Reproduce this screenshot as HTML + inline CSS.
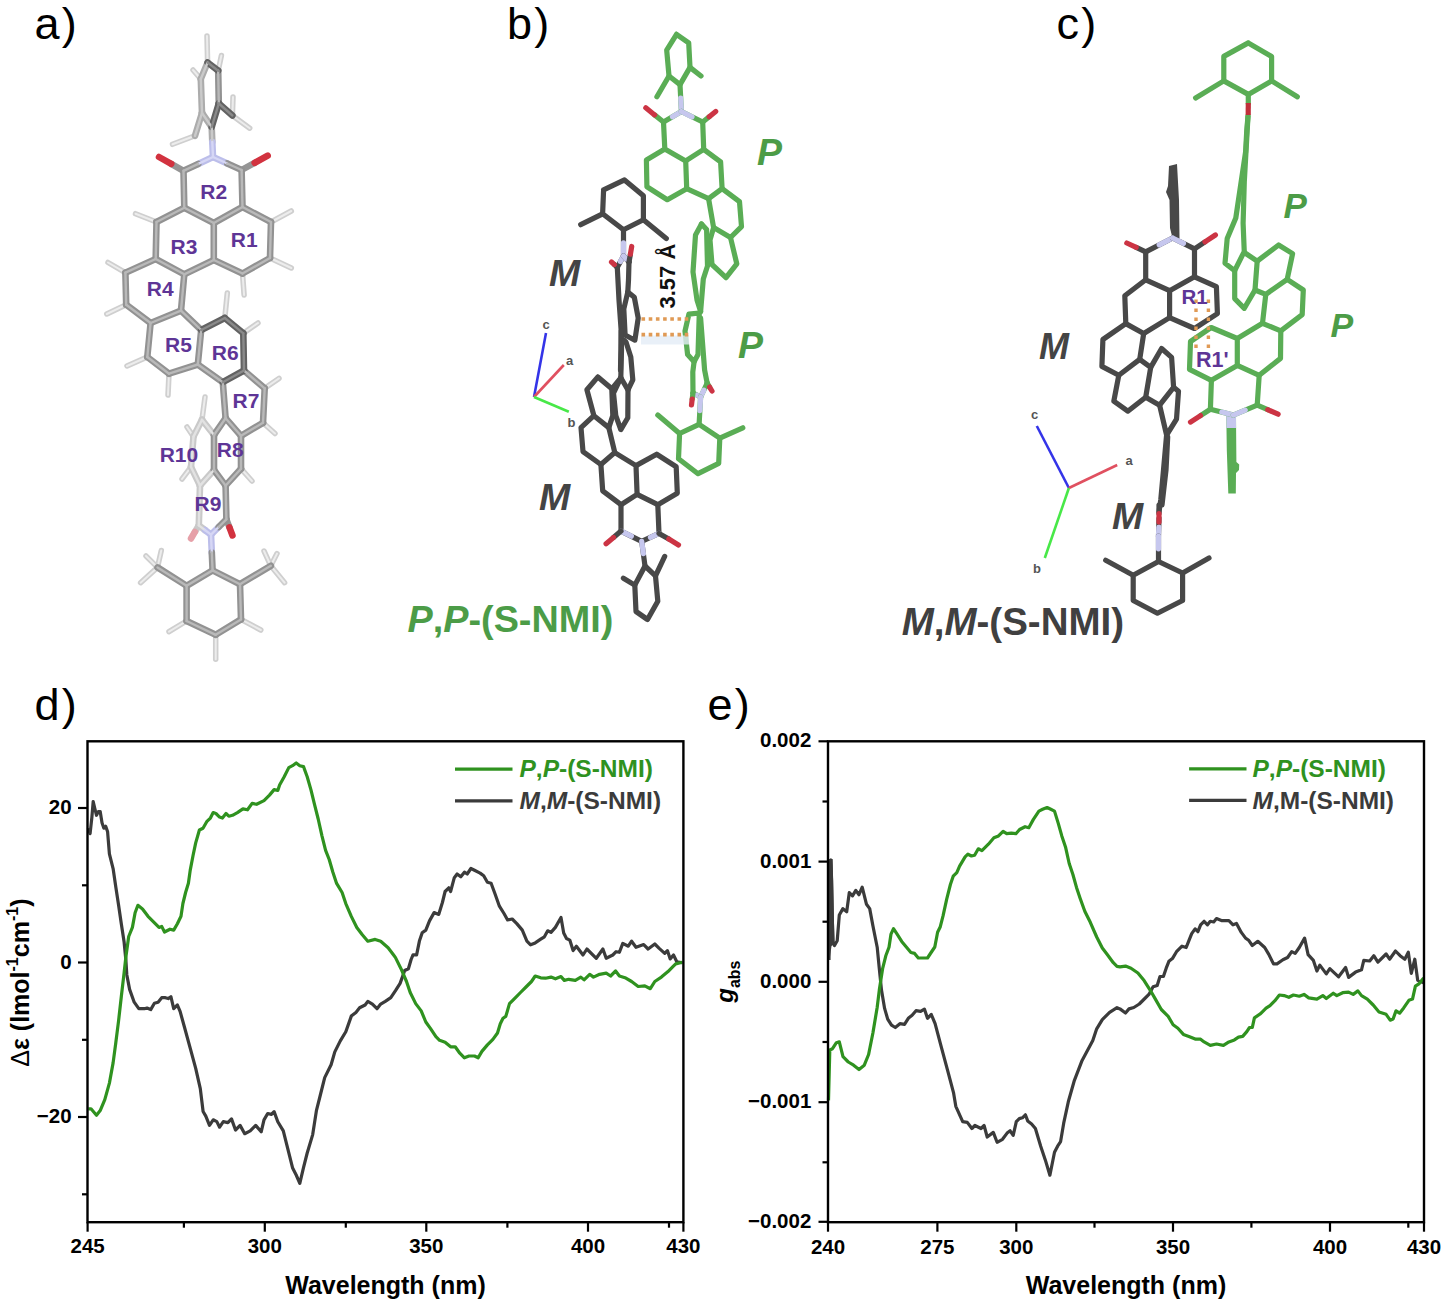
<!DOCTYPE html>
<html><head><meta charset="utf-8"><title>figure</title>
<style>html,body{margin:0;padding:0;background:#fff;width:1450px;height:1306px;overflow:hidden}svg{display:block}</style>
</head><body>
<svg width="1450" height="1306" viewBox="0 0 1450 1306" font-family='"Liberation Sans", sans-serif'>
<rect width="1450" height="1306" fill="#fff"/>
<text x="34.5" y="38.8" font-size="45" letter-spacing="2.2">a)</text>
<text x="507" y="38.8" font-size="45" letter-spacing="2.2">b)</text>
<text x="1056.5" y="38.8" font-size="45" letter-spacing="2.2">c)</text>
<line x1="207.6" y1="62.5" x2="207" y2="36" stroke="#cfcfcf" stroke-width="5.5" stroke-linecap="round"/>
<line x1="207.6" y1="62.5" x2="207" y2="36" stroke="#ececec" stroke-width="2" stroke-linecap="round"/>
<line x1="218.2" y1="70.7" x2="221.4" y2="55.5" stroke="#cfcfcf" stroke-width="5.5" stroke-linecap="round"/>
<line x1="218.2" y1="70.7" x2="221.4" y2="55.5" stroke="#ececec" stroke-width="2" stroke-linecap="round"/>
<line x1="200.8" y1="79" x2="193" y2="70" stroke="#cfcfcf" stroke-width="5.5" stroke-linecap="round"/>
<line x1="200.8" y1="79" x2="193" y2="70" stroke="#ececec" stroke-width="2" stroke-linecap="round"/>
<line x1="232.4" y1="115.5" x2="233" y2="97" stroke="#cfcfcf" stroke-width="5.5" stroke-linecap="round"/>
<line x1="232.4" y1="115.5" x2="233" y2="97" stroke="#ececec" stroke-width="2" stroke-linecap="round"/>
<line x1="232.4" y1="115.5" x2="249.7" y2="128.2" stroke="#cfcfcf" stroke-width="5.5" stroke-linecap="round"/>
<line x1="232.4" y1="115.5" x2="249.7" y2="128.2" stroke="#ececec" stroke-width="2" stroke-linecap="round"/>
<line x1="195" y1="135.8" x2="172.5" y2="144.3" stroke="#cfcfcf" stroke-width="5.5" stroke-linecap="round"/>
<line x1="195" y1="135.8" x2="172.5" y2="144.3" stroke="#ececec" stroke-width="2" stroke-linecap="round"/>
<line x1="156.5" y1="222" x2="135.5" y2="213.7" stroke="#cfcfcf" stroke-width="5.5" stroke-linecap="round"/>
<line x1="156.5" y1="222" x2="135.5" y2="213.7" stroke="#ececec" stroke-width="2" stroke-linecap="round"/>
<line x1="271" y1="222" x2="291.3" y2="211" stroke="#cfcfcf" stroke-width="5.5" stroke-linecap="round"/>
<line x1="271" y1="222" x2="291.3" y2="211" stroke="#ececec" stroke-width="2" stroke-linecap="round"/>
<line x1="270" y1="258" x2="291.3" y2="268" stroke="#cfcfcf" stroke-width="5.5" stroke-linecap="round"/>
<line x1="270" y1="258" x2="291.3" y2="268" stroke="#ececec" stroke-width="2" stroke-linecap="round"/>
<line x1="242.5" y1="273.5" x2="244.1" y2="295" stroke="#cfcfcf" stroke-width="5.5" stroke-linecap="round"/>
<line x1="242.5" y1="273.5" x2="244.1" y2="295" stroke="#ececec" stroke-width="2" stroke-linecap="round"/>
<line x1="125.4" y1="272.7" x2="108" y2="262.5" stroke="#cfcfcf" stroke-width="5.5" stroke-linecap="round"/>
<line x1="125.4" y1="272.7" x2="108" y2="262.5" stroke="#ececec" stroke-width="2" stroke-linecap="round"/>
<line x1="126.2" y1="304.7" x2="106.8" y2="314" stroke="#cfcfcf" stroke-width="5.5" stroke-linecap="round"/>
<line x1="126.2" y1="304.7" x2="106.8" y2="314" stroke="#ececec" stroke-width="2" stroke-linecap="round"/>
<line x1="147.3" y1="357" x2="127" y2="366" stroke="#cfcfcf" stroke-width="5.5" stroke-linecap="round"/>
<line x1="147.3" y1="357" x2="127" y2="366" stroke="#ececec" stroke-width="2" stroke-linecap="round"/>
<line x1="169" y1="373.7" x2="168" y2="395" stroke="#cfcfcf" stroke-width="5.5" stroke-linecap="round"/>
<line x1="169" y1="373.7" x2="168" y2="395" stroke="#ececec" stroke-width="2" stroke-linecap="round"/>
<line x1="224.8" y1="318" x2="227.3" y2="293" stroke="#cfcfcf" stroke-width="5.5" stroke-linecap="round"/>
<line x1="224.8" y1="318" x2="227.3" y2="293" stroke="#ececec" stroke-width="2" stroke-linecap="round"/>
<line x1="243.3" y1="333.3" x2="258" y2="323" stroke="#cfcfcf" stroke-width="5.5" stroke-linecap="round"/>
<line x1="243.3" y1="333.3" x2="258" y2="323" stroke="#ececec" stroke-width="2" stroke-linecap="round"/>
<line x1="264.7" y1="388.3" x2="279" y2="378.4" stroke="#cfcfcf" stroke-width="5.5" stroke-linecap="round"/>
<line x1="264.7" y1="388.3" x2="279" y2="378.4" stroke="#ececec" stroke-width="2" stroke-linecap="round"/>
<line x1="263" y1="422.8" x2="275" y2="433.5" stroke="#cfcfcf" stroke-width="5.5" stroke-linecap="round"/>
<line x1="263" y1="422.8" x2="275" y2="433.5" stroke="#ececec" stroke-width="2" stroke-linecap="round"/>
<line x1="241" y1="468.7" x2="252" y2="481" stroke="#cfcfcf" stroke-width="5.5" stroke-linecap="round"/>
<line x1="241" y1="468.7" x2="252" y2="481" stroke="#ececec" stroke-width="2" stroke-linecap="round"/>
<line x1="202" y1="419.7" x2="205" y2="397" stroke="#cfcfcf" stroke-width="5.5" stroke-linecap="round"/>
<line x1="202" y1="419.7" x2="205" y2="397" stroke="#ececec" stroke-width="2" stroke-linecap="round"/>
<line x1="193.5" y1="436.6" x2="187" y2="427" stroke="#cfcfcf" stroke-width="5.5" stroke-linecap="round"/>
<line x1="193.5" y1="436.6" x2="187" y2="427" stroke="#ececec" stroke-width="2" stroke-linecap="round"/>
<line x1="191" y1="467" x2="182" y2="479" stroke="#cfcfcf" stroke-width="5.5" stroke-linecap="round"/>
<line x1="191" y1="467" x2="182" y2="479" stroke="#ececec" stroke-width="2" stroke-linecap="round"/>
<line x1="186.6" y1="621" x2="169" y2="631.7" stroke="#cfcfcf" stroke-width="5.5" stroke-linecap="round"/>
<line x1="186.6" y1="621" x2="169" y2="631.7" stroke="#ececec" stroke-width="2" stroke-linecap="round"/>
<line x1="215.7" y1="634.8" x2="215.7" y2="659.3" stroke="#cfcfcf" stroke-width="5.5" stroke-linecap="round"/>
<line x1="215.7" y1="634.8" x2="215.7" y2="659.3" stroke="#ececec" stroke-width="2" stroke-linecap="round"/>
<line x1="241" y1="619.4" x2="260.8" y2="630" stroke="#cfcfcf" stroke-width="5.5" stroke-linecap="round"/>
<line x1="241" y1="619.4" x2="260.8" y2="630" stroke="#ececec" stroke-width="2" stroke-linecap="round"/>
<line x1="157.5" y1="567.4" x2="140.6" y2="582.7" stroke="#cfcfcf" stroke-width="5.5" stroke-linecap="round"/>
<line x1="157.5" y1="567.4" x2="140.6" y2="582.7" stroke="#ececec" stroke-width="2" stroke-linecap="round"/>
<line x1="157.5" y1="567.4" x2="161.3" y2="550.5" stroke="#cfcfcf" stroke-width="5.5" stroke-linecap="round"/>
<line x1="157.5" y1="567.4" x2="161.3" y2="550.5" stroke="#ececec" stroke-width="2" stroke-linecap="round"/>
<line x1="157.5" y1="567.4" x2="146" y2="556" stroke="#cfcfcf" stroke-width="5.5" stroke-linecap="round"/>
<line x1="157.5" y1="567.4" x2="146" y2="556" stroke="#ececec" stroke-width="2" stroke-linecap="round"/>
<line x1="270.8" y1="565.8" x2="284.6" y2="582.7" stroke="#cfcfcf" stroke-width="5.5" stroke-linecap="round"/>
<line x1="270.8" y1="565.8" x2="284.6" y2="582.7" stroke="#ececec" stroke-width="2" stroke-linecap="round"/>
<line x1="270.8" y1="565.8" x2="277" y2="553.6" stroke="#cfcfcf" stroke-width="5.5" stroke-linecap="round"/>
<line x1="270.8" y1="565.8" x2="277" y2="553.6" stroke="#ececec" stroke-width="2" stroke-linecap="round"/>
<line x1="270.8" y1="565.8" x2="264" y2="551" stroke="#cfcfcf" stroke-width="5.5" stroke-linecap="round"/>
<line x1="270.8" y1="565.8" x2="264" y2="551" stroke="#ececec" stroke-width="2" stroke-linecap="round"/>
<line x1="183.5" y1="170.8" x2="171.25" y2="163.9" stroke="#959595" stroke-width="6.5" stroke-linecap="round"/>
<line x1="171.25" y1="163.9" x2="159" y2="157" stroke="#d2323f" stroke-width="6.5" stroke-linecap="round"/>
<line x1="241.6" y1="170" x2="254.64999999999998" y2="162.8" stroke="#959595" stroke-width="6.5" stroke-linecap="round"/>
<line x1="254.64999999999998" y1="162.8" x2="267.7" y2="155.6" stroke="#d2323f" stroke-width="6.5" stroke-linecap="round"/>
<line x1="226.4" y1="519.3" x2="229.45" y2="527.4" stroke="#959595" stroke-width="6.5" stroke-linecap="round"/>
<line x1="229.45" y1="527.4" x2="232.5" y2="535.5" stroke="#d2323f" stroke-width="6.5" stroke-linecap="round"/>
<line x1="198.8" y1="525.4" x2="194.9" y2="531.95" stroke="#c8c8c8" stroke-width="6.5" stroke-linecap="round"/>
<line x1="194.9" y1="531.95" x2="191" y2="538.5" stroke="#e6a0a8" stroke-width="6.5" stroke-linecap="round"/>
<line x1="214.0" y1="435.0" x2="202.0" y2="419.7" stroke="#c9c9c9" stroke-width="6.6" stroke-linecap="round"/>
<line x1="202.0" y1="419.7" x2="193.5" y2="436.6" stroke="#c9c9c9" stroke-width="6.6" stroke-linecap="round"/>
<line x1="193.5" y1="436.6" x2="191.0" y2="467.0" stroke="#c9c9c9" stroke-width="6.6" stroke-linecap="round"/>
<line x1="191.0" y1="467.0" x2="200.0" y2="485.6" stroke="#c9c9c9" stroke-width="6.6" stroke-linecap="round"/>
<line x1="200.0" y1="485.6" x2="214.0" y2="470.0" stroke="#c9c9c9" stroke-width="6.6" stroke-linecap="round"/>
<line x1="204.9" y1="530.0" x2="198.8" y2="525.4" stroke="#c9c9c9" stroke-width="6.6" stroke-linecap="round"/>
<line x1="198.8" y1="525.4" x2="200.0" y2="485.6" stroke="#c9c9c9" stroke-width="6.6" stroke-linecap="round"/>
<line x1="211.7" y1="127.0" x2="202.0" y2="113.0" stroke="#acacac" stroke-width="6.6" stroke-linecap="round"/>
<line x1="202.0" y1="113.0" x2="200.8" y2="79.0" stroke="#acacac" stroke-width="6.6" stroke-linecap="round"/>
<line x1="200.8" y1="79.0" x2="207.6" y2="62.5" stroke="#acacac" stroke-width="6.6" stroke-linecap="round"/>
<line x1="202.0" y1="113.0" x2="195.0" y2="135.8" stroke="#acacac" stroke-width="6.6" stroke-linecap="round"/>
<line x1="212.3" y1="142.0" x2="211.7" y2="127.0" stroke="#acacac" stroke-width="6.6" stroke-linecap="round"/>
<line x1="213.0" y1="157.0" x2="212.3" y2="142.0" stroke="#bcbeea" stroke-width="6.6" stroke-linecap="round"/>
<line x1="213.0" y1="157.0" x2="198.2" y2="163.9" stroke="#bcbeea" stroke-width="6.6" stroke-linecap="round"/>
<line x1="213.0" y1="157.0" x2="227.3" y2="163.5" stroke="#bcbeea" stroke-width="6.6" stroke-linecap="round"/>
<line x1="211.0" y1="534.6" x2="218.7" y2="527.0" stroke="#bcbeea" stroke-width="6.6" stroke-linecap="round"/>
<line x1="211.0" y1="534.6" x2="204.9" y2="530.0" stroke="#bcbeea" stroke-width="6.6" stroke-linecap="round"/>
<line x1="211.0" y1="534.6" x2="211.8" y2="552.5" stroke="#bcbeea" stroke-width="6.6" stroke-linecap="round"/>
<line x1="218.2" y1="70.7" x2="218.8" y2="103.5" stroke="#929292" stroke-width="6.6" stroke-linecap="round"/>
<line x1="198.2" y1="163.9" x2="183.5" y2="170.8" stroke="#929292" stroke-width="6.6" stroke-linecap="round"/>
<line x1="227.3" y1="163.5" x2="241.6" y2="170.0" stroke="#929292" stroke-width="6.6" stroke-linecap="round"/>
<line x1="183.5" y1="170.8" x2="184.3" y2="207.8" stroke="#929292" stroke-width="6.6" stroke-linecap="round"/>
<line x1="241.6" y1="170.0" x2="242.5" y2="207.0" stroke="#929292" stroke-width="6.6" stroke-linecap="round"/>
<line x1="184.3" y1="207.8" x2="213.8" y2="223.0" stroke="#929292" stroke-width="6.6" stroke-linecap="round"/>
<line x1="213.8" y1="223.0" x2="242.5" y2="207.0" stroke="#929292" stroke-width="6.6" stroke-linecap="round"/>
<line x1="184.3" y1="207.8" x2="156.5" y2="222.0" stroke="#929292" stroke-width="6.6" stroke-linecap="round"/>
<line x1="156.5" y1="222.0" x2="155.7" y2="259.0" stroke="#929292" stroke-width="6.6" stroke-linecap="round"/>
<line x1="155.7" y1="259.0" x2="184.3" y2="274.3" stroke="#929292" stroke-width="6.6" stroke-linecap="round"/>
<line x1="184.3" y1="274.3" x2="213.8" y2="260.0" stroke="#929292" stroke-width="6.6" stroke-linecap="round"/>
<line x1="213.8" y1="260.0" x2="213.8" y2="223.0" stroke="#929292" stroke-width="6.6" stroke-linecap="round"/>
<line x1="242.5" y1="207.0" x2="271.0" y2="222.0" stroke="#929292" stroke-width="6.6" stroke-linecap="round"/>
<line x1="271.0" y1="222.0" x2="270.0" y2="258.0" stroke="#929292" stroke-width="6.6" stroke-linecap="round"/>
<line x1="270.0" y1="258.0" x2="242.5" y2="273.5" stroke="#929292" stroke-width="6.6" stroke-linecap="round"/>
<line x1="242.5" y1="273.5" x2="213.8" y2="260.0" stroke="#929292" stroke-width="6.6" stroke-linecap="round"/>
<line x1="155.7" y1="259.0" x2="125.4" y2="272.7" stroke="#929292" stroke-width="6.6" stroke-linecap="round"/>
<line x1="125.4" y1="272.7" x2="126.2" y2="304.7" stroke="#929292" stroke-width="6.6" stroke-linecap="round"/>
<line x1="126.2" y1="304.7" x2="150.6" y2="323.0" stroke="#929292" stroke-width="6.6" stroke-linecap="round"/>
<line x1="150.6" y1="323.0" x2="181.0" y2="310.6" stroke="#929292" stroke-width="6.6" stroke-linecap="round"/>
<line x1="181.0" y1="310.6" x2="184.3" y2="274.3" stroke="#929292" stroke-width="6.6" stroke-linecap="round"/>
<line x1="181.0" y1="310.6" x2="201.2" y2="330.0" stroke="#929292" stroke-width="6.6" stroke-linecap="round"/>
<line x1="201.2" y1="330.0" x2="197.8" y2="364.5" stroke="#929292" stroke-width="6.6" stroke-linecap="round"/>
<line x1="197.8" y1="364.5" x2="169.0" y2="373.7" stroke="#929292" stroke-width="6.6" stroke-linecap="round"/>
<line x1="169.0" y1="373.7" x2="147.3" y2="357.0" stroke="#929292" stroke-width="6.6" stroke-linecap="round"/>
<line x1="147.3" y1="357.0" x2="150.6" y2="323.0" stroke="#929292" stroke-width="6.6" stroke-linecap="round"/>
<line x1="222.8" y1="382.2" x2="197.8" y2="364.5" stroke="#929292" stroke-width="6.6" stroke-linecap="round"/>
<line x1="244.0" y1="370.5" x2="264.7" y2="388.3" stroke="#929292" stroke-width="6.6" stroke-linecap="round"/>
<line x1="264.7" y1="388.3" x2="263.0" y2="422.8" stroke="#929292" stroke-width="6.6" stroke-linecap="round"/>
<line x1="263.0" y1="422.8" x2="241.0" y2="435.8" stroke="#929292" stroke-width="6.6" stroke-linecap="round"/>
<line x1="241.0" y1="435.8" x2="225.6" y2="418.2" stroke="#929292" stroke-width="6.6" stroke-linecap="round"/>
<line x1="225.6" y1="418.2" x2="222.8" y2="382.2" stroke="#929292" stroke-width="6.6" stroke-linecap="round"/>
<line x1="241.0" y1="435.8" x2="241.0" y2="468.7" stroke="#929292" stroke-width="6.6" stroke-linecap="round"/>
<line x1="241.0" y1="468.7" x2="225.6" y2="485.6" stroke="#929292" stroke-width="6.6" stroke-linecap="round"/>
<line x1="225.6" y1="485.6" x2="214.0" y2="470.0" stroke="#929292" stroke-width="6.6" stroke-linecap="round"/>
<line x1="214.0" y1="470.0" x2="214.0" y2="435.0" stroke="#929292" stroke-width="6.6" stroke-linecap="round"/>
<line x1="214.0" y1="435.0" x2="225.6" y2="418.2" stroke="#929292" stroke-width="6.6" stroke-linecap="round"/>
<line x1="225.6" y1="485.6" x2="226.4" y2="519.3" stroke="#929292" stroke-width="6.6" stroke-linecap="round"/>
<line x1="218.7" y1="527.0" x2="226.4" y2="519.3" stroke="#929292" stroke-width="6.6" stroke-linecap="round"/>
<line x1="211.8" y1="552.5" x2="212.6" y2="570.4" stroke="#929292" stroke-width="6.6" stroke-linecap="round"/>
<line x1="212.6" y1="570.4" x2="186.6" y2="585.8" stroke="#929292" stroke-width="6.6" stroke-linecap="round"/>
<line x1="186.6" y1="585.8" x2="186.6" y2="621.0" stroke="#929292" stroke-width="6.6" stroke-linecap="round"/>
<line x1="186.6" y1="621.0" x2="215.7" y2="634.8" stroke="#929292" stroke-width="6.6" stroke-linecap="round"/>
<line x1="215.7" y1="634.8" x2="241.0" y2="619.4" stroke="#929292" stroke-width="6.6" stroke-linecap="round"/>
<line x1="241.0" y1="619.4" x2="240.0" y2="584.2" stroke="#929292" stroke-width="6.6" stroke-linecap="round"/>
<line x1="240.0" y1="584.2" x2="212.6" y2="570.4" stroke="#929292" stroke-width="6.6" stroke-linecap="round"/>
<line x1="186.6" y1="585.8" x2="157.5" y2="567.4" stroke="#929292" stroke-width="6.6" stroke-linecap="round"/>
<line x1="240.0" y1="584.2" x2="270.8" y2="565.8" stroke="#929292" stroke-width="6.6" stroke-linecap="round"/>
<line x1="207.6" y1="62.5" x2="218.2" y2="70.7" stroke="#626262" stroke-width="6.6" stroke-linecap="round"/>
<line x1="218.8" y1="103.5" x2="211.7" y2="127.0" stroke="#626262" stroke-width="6.6" stroke-linecap="round"/>
<line x1="218.8" y1="103.5" x2="232.4" y2="115.5" stroke="#626262" stroke-width="6.6" stroke-linecap="round"/>
<line x1="201.2" y1="330.0" x2="224.8" y2="318.0" stroke="#626262" stroke-width="6.6" stroke-linecap="round"/>
<line x1="224.8" y1="318.0" x2="243.3" y2="333.3" stroke="#626262" stroke-width="6.6" stroke-linecap="round"/>
<line x1="243.3" y1="333.3" x2="244.0" y2="370.5" stroke="#626262" stroke-width="6.6" stroke-linecap="round"/>
<line x1="244.0" y1="370.5" x2="222.8" y2="382.2" stroke="#626262" stroke-width="6.6" stroke-linecap="round"/>
<line x1="214.0" y1="435.0" x2="202.0" y2="419.7" stroke="#e2e2e2" stroke-width="2.4" stroke-linecap="round"/>
<line x1="202.0" y1="419.7" x2="193.5" y2="436.6" stroke="#e2e2e2" stroke-width="2.4" stroke-linecap="round"/>
<line x1="193.5" y1="436.6" x2="191.0" y2="467.0" stroke="#e2e2e2" stroke-width="2.4" stroke-linecap="round"/>
<line x1="191.0" y1="467.0" x2="200.0" y2="485.6" stroke="#e2e2e2" stroke-width="2.4" stroke-linecap="round"/>
<line x1="200.0" y1="485.6" x2="214.0" y2="470.0" stroke="#e2e2e2" stroke-width="2.4" stroke-linecap="round"/>
<line x1="204.9" y1="530.0" x2="198.8" y2="525.4" stroke="#e2e2e2" stroke-width="2.4" stroke-linecap="round"/>
<line x1="198.8" y1="525.4" x2="200.0" y2="485.6" stroke="#e2e2e2" stroke-width="2.4" stroke-linecap="round"/>
<line x1="211.7" y1="127.0" x2="202.0" y2="113.0" stroke="#cacaca" stroke-width="2.4" stroke-linecap="round"/>
<line x1="202.0" y1="113.0" x2="200.8" y2="79.0" stroke="#cacaca" stroke-width="2.4" stroke-linecap="round"/>
<line x1="200.8" y1="79.0" x2="207.6" y2="62.5" stroke="#cacaca" stroke-width="2.4" stroke-linecap="round"/>
<line x1="202.0" y1="113.0" x2="195.0" y2="135.8" stroke="#cacaca" stroke-width="2.4" stroke-linecap="round"/>
<line x1="212.3" y1="142.0" x2="211.7" y2="127.0" stroke="#cacaca" stroke-width="2.4" stroke-linecap="round"/>
<line x1="213.0" y1="157.0" x2="212.3" y2="142.0" stroke="#d6d7f5" stroke-width="2.4" stroke-linecap="round"/>
<line x1="213.0" y1="157.0" x2="198.2" y2="163.9" stroke="#d6d7f5" stroke-width="2.4" stroke-linecap="round"/>
<line x1="213.0" y1="157.0" x2="227.3" y2="163.5" stroke="#d6d7f5" stroke-width="2.4" stroke-linecap="round"/>
<line x1="211.0" y1="534.6" x2="218.7" y2="527.0" stroke="#d6d7f5" stroke-width="2.4" stroke-linecap="round"/>
<line x1="211.0" y1="534.6" x2="204.9" y2="530.0" stroke="#d6d7f5" stroke-width="2.4" stroke-linecap="round"/>
<line x1="211.0" y1="534.6" x2="211.8" y2="552.5" stroke="#d6d7f5" stroke-width="2.4" stroke-linecap="round"/>
<line x1="218.2" y1="70.7" x2="218.8" y2="103.5" stroke="#b9b9b9" stroke-width="2.4" stroke-linecap="round"/>
<line x1="198.2" y1="163.9" x2="183.5" y2="170.8" stroke="#b9b9b9" stroke-width="2.4" stroke-linecap="round"/>
<line x1="227.3" y1="163.5" x2="241.6" y2="170.0" stroke="#b9b9b9" stroke-width="2.4" stroke-linecap="round"/>
<line x1="183.5" y1="170.8" x2="184.3" y2="207.8" stroke="#b9b9b9" stroke-width="2.4" stroke-linecap="round"/>
<line x1="241.6" y1="170.0" x2="242.5" y2="207.0" stroke="#b9b9b9" stroke-width="2.4" stroke-linecap="round"/>
<line x1="184.3" y1="207.8" x2="213.8" y2="223.0" stroke="#b9b9b9" stroke-width="2.4" stroke-linecap="round"/>
<line x1="213.8" y1="223.0" x2="242.5" y2="207.0" stroke="#b9b9b9" stroke-width="2.4" stroke-linecap="round"/>
<line x1="184.3" y1="207.8" x2="156.5" y2="222.0" stroke="#b9b9b9" stroke-width="2.4" stroke-linecap="round"/>
<line x1="156.5" y1="222.0" x2="155.7" y2="259.0" stroke="#b9b9b9" stroke-width="2.4" stroke-linecap="round"/>
<line x1="155.7" y1="259.0" x2="184.3" y2="274.3" stroke="#b9b9b9" stroke-width="2.4" stroke-linecap="round"/>
<line x1="184.3" y1="274.3" x2="213.8" y2="260.0" stroke="#b9b9b9" stroke-width="2.4" stroke-linecap="round"/>
<line x1="213.8" y1="260.0" x2="213.8" y2="223.0" stroke="#b9b9b9" stroke-width="2.4" stroke-linecap="round"/>
<line x1="242.5" y1="207.0" x2="271.0" y2="222.0" stroke="#b9b9b9" stroke-width="2.4" stroke-linecap="round"/>
<line x1="271.0" y1="222.0" x2="270.0" y2="258.0" stroke="#b9b9b9" stroke-width="2.4" stroke-linecap="round"/>
<line x1="270.0" y1="258.0" x2="242.5" y2="273.5" stroke="#b9b9b9" stroke-width="2.4" stroke-linecap="round"/>
<line x1="242.5" y1="273.5" x2="213.8" y2="260.0" stroke="#b9b9b9" stroke-width="2.4" stroke-linecap="round"/>
<line x1="155.7" y1="259.0" x2="125.4" y2="272.7" stroke="#b9b9b9" stroke-width="2.4" stroke-linecap="round"/>
<line x1="125.4" y1="272.7" x2="126.2" y2="304.7" stroke="#b9b9b9" stroke-width="2.4" stroke-linecap="round"/>
<line x1="126.2" y1="304.7" x2="150.6" y2="323.0" stroke="#b9b9b9" stroke-width="2.4" stroke-linecap="round"/>
<line x1="150.6" y1="323.0" x2="181.0" y2="310.6" stroke="#b9b9b9" stroke-width="2.4" stroke-linecap="round"/>
<line x1="181.0" y1="310.6" x2="184.3" y2="274.3" stroke="#b9b9b9" stroke-width="2.4" stroke-linecap="round"/>
<line x1="181.0" y1="310.6" x2="201.2" y2="330.0" stroke="#b9b9b9" stroke-width="2.4" stroke-linecap="round"/>
<line x1="201.2" y1="330.0" x2="197.8" y2="364.5" stroke="#b9b9b9" stroke-width="2.4" stroke-linecap="round"/>
<line x1="197.8" y1="364.5" x2="169.0" y2="373.7" stroke="#b9b9b9" stroke-width="2.4" stroke-linecap="round"/>
<line x1="169.0" y1="373.7" x2="147.3" y2="357.0" stroke="#b9b9b9" stroke-width="2.4" stroke-linecap="round"/>
<line x1="147.3" y1="357.0" x2="150.6" y2="323.0" stroke="#b9b9b9" stroke-width="2.4" stroke-linecap="round"/>
<line x1="222.8" y1="382.2" x2="197.8" y2="364.5" stroke="#b9b9b9" stroke-width="2.4" stroke-linecap="round"/>
<line x1="244.0" y1="370.5" x2="264.7" y2="388.3" stroke="#b9b9b9" stroke-width="2.4" stroke-linecap="round"/>
<line x1="264.7" y1="388.3" x2="263.0" y2="422.8" stroke="#b9b9b9" stroke-width="2.4" stroke-linecap="round"/>
<line x1="263.0" y1="422.8" x2="241.0" y2="435.8" stroke="#b9b9b9" stroke-width="2.4" stroke-linecap="round"/>
<line x1="241.0" y1="435.8" x2="225.6" y2="418.2" stroke="#b9b9b9" stroke-width="2.4" stroke-linecap="round"/>
<line x1="225.6" y1="418.2" x2="222.8" y2="382.2" stroke="#b9b9b9" stroke-width="2.4" stroke-linecap="round"/>
<line x1="241.0" y1="435.8" x2="241.0" y2="468.7" stroke="#b9b9b9" stroke-width="2.4" stroke-linecap="round"/>
<line x1="241.0" y1="468.7" x2="225.6" y2="485.6" stroke="#b9b9b9" stroke-width="2.4" stroke-linecap="round"/>
<line x1="225.6" y1="485.6" x2="214.0" y2="470.0" stroke="#b9b9b9" stroke-width="2.4" stroke-linecap="round"/>
<line x1="214.0" y1="470.0" x2="214.0" y2="435.0" stroke="#b9b9b9" stroke-width="2.4" stroke-linecap="round"/>
<line x1="214.0" y1="435.0" x2="225.6" y2="418.2" stroke="#b9b9b9" stroke-width="2.4" stroke-linecap="round"/>
<line x1="225.6" y1="485.6" x2="226.4" y2="519.3" stroke="#b9b9b9" stroke-width="2.4" stroke-linecap="round"/>
<line x1="218.7" y1="527.0" x2="226.4" y2="519.3" stroke="#b9b9b9" stroke-width="2.4" stroke-linecap="round"/>
<line x1="211.8" y1="552.5" x2="212.6" y2="570.4" stroke="#b9b9b9" stroke-width="2.4" stroke-linecap="round"/>
<line x1="212.6" y1="570.4" x2="186.6" y2="585.8" stroke="#b9b9b9" stroke-width="2.4" stroke-linecap="round"/>
<line x1="186.6" y1="585.8" x2="186.6" y2="621.0" stroke="#b9b9b9" stroke-width="2.4" stroke-linecap="round"/>
<line x1="186.6" y1="621.0" x2="215.7" y2="634.8" stroke="#b9b9b9" stroke-width="2.4" stroke-linecap="round"/>
<line x1="215.7" y1="634.8" x2="241.0" y2="619.4" stroke="#b9b9b9" stroke-width="2.4" stroke-linecap="round"/>
<line x1="241.0" y1="619.4" x2="240.0" y2="584.2" stroke="#b9b9b9" stroke-width="2.4" stroke-linecap="round"/>
<line x1="240.0" y1="584.2" x2="212.6" y2="570.4" stroke="#b9b9b9" stroke-width="2.4" stroke-linecap="round"/>
<line x1="186.6" y1="585.8" x2="157.5" y2="567.4" stroke="#b9b9b9" stroke-width="2.4" stroke-linecap="round"/>
<line x1="240.0" y1="584.2" x2="270.8" y2="565.8" stroke="#b9b9b9" stroke-width="2.4" stroke-linecap="round"/>
<line x1="207.6" y1="62.5" x2="218.2" y2="70.7" stroke="#8a8a8a" stroke-width="2.4" stroke-linecap="round"/>
<line x1="218.8" y1="103.5" x2="211.7" y2="127.0" stroke="#8a8a8a" stroke-width="2.4" stroke-linecap="round"/>
<line x1="218.8" y1="103.5" x2="232.4" y2="115.5" stroke="#8a8a8a" stroke-width="2.4" stroke-linecap="round"/>
<line x1="201.2" y1="330.0" x2="224.8" y2="318.0" stroke="#8a8a8a" stroke-width="2.4" stroke-linecap="round"/>
<line x1="224.8" y1="318.0" x2="243.3" y2="333.3" stroke="#8a8a8a" stroke-width="2.4" stroke-linecap="round"/>
<line x1="243.3" y1="333.3" x2="244.0" y2="370.5" stroke="#8a8a8a" stroke-width="2.4" stroke-linecap="round"/>
<line x1="244.0" y1="370.5" x2="222.8" y2="382.2" stroke="#8a8a8a" stroke-width="2.4" stroke-linecap="round"/>
<text x="213.8" y="198.6" text-anchor="middle" font-size="21" font-weight="bold" fill="#5e3596">R2</text>
<text x="244.2" y="246.5" text-anchor="middle" font-size="21" font-weight="bold" fill="#5e3596">R1</text>
<text x="184" y="254" text-anchor="middle" font-size="21" font-weight="bold" fill="#5e3596">R3</text>
<text x="160.3" y="296.2" text-anchor="middle" font-size="21" font-weight="bold" fill="#5e3596">R4</text>
<text x="178.5" y="351.8" text-anchor="middle" font-size="21" font-weight="bold" fill="#5e3596">R5</text>
<text x="225.2" y="360.3" text-anchor="middle" font-size="21" font-weight="bold" fill="#5e3596">R6</text>
<text x="245.9" y="408.2" text-anchor="middle" font-size="21" font-weight="bold" fill="#5e3596">R7</text>
<text x="230.2" y="457.2" text-anchor="middle" font-size="21" font-weight="bold" fill="#5e3596">R8</text>
<text x="178.9" y="461.8" text-anchor="middle" font-size="21" font-weight="bold" fill="#5e3596">R10</text>
<text x="208" y="510.8" text-anchor="middle" font-size="21" font-weight="bold" fill="#5e3596">R9</text>
<polyline points="603.6,189.9 624.5,179.9 643.4,195.8 643.4,219.7 623.5,229.7 602.6,213.8 603.6,189.9" fill="none" stroke="#484848" stroke-width="5.2" stroke-linejoin="round" stroke-linecap="round"/>
<polyline points="602.6,213.8 580.7,224.7" fill="none" stroke="#484848" stroke-width="5.2" stroke-linejoin="round" stroke-linecap="round"/>
<polyline points="643.4,219.7 666.3,238.6" fill="none" stroke="#484848" stroke-width="5.2" stroke-linejoin="round" stroke-linecap="round"/>
<polyline points="617.3,267.3 619.0,300.0 621.2,331.1 620.5,370.0" fill="none" stroke="#484848" stroke-width="5.2" stroke-linejoin="round" stroke-linecap="round"/>
<polyline points="629.0,262.0 628.5,280.0 627.8,292.0" fill="none" stroke="#484848" stroke-width="5.2" stroke-linejoin="round" stroke-linecap="round"/>
<polyline points="627.8,292.0 634.3,297.3 638.2,318.1 634.9,340.2 625.1,335.0 623.8,309.0 627.8,292.0" fill="none" stroke="#484848" stroke-width="5.2" stroke-linejoin="round" stroke-linecap="round"/>
<polyline points="621.2,331.1 621.5,350.0 620.8,377.8 611.8,388.8" fill="none" stroke="#484848" stroke-width="5.2" stroke-linejoin="round" stroke-linecap="round"/>
<polyline points="624.0,340.0 626.0,342.0 630.8,357.0 632.8,379.8 628.0,390.0 627.8,417.7 620.8,429.6 615.8,415.7 613.5,393.0 620.8,377.8" fill="none" stroke="#484848" stroke-width="5.2" stroke-linejoin="round" stroke-linecap="round"/>
<polyline points="620.8,377.8 628.0,390.0" fill="none" stroke="#484848" stroke-width="5.2" stroke-linejoin="round" stroke-linecap="round"/>
<polyline points="597.9,376.9 611.8,388.8 612.8,415.7 608.8,427.6 593.9,415.7 586.9,389.8 597.9,376.9" fill="none" stroke="#484848" stroke-width="5.2" stroke-linejoin="round" stroke-linecap="round"/>
<polyline points="593.9,415.7 581.0,427.6 583.0,451.6 600.9,464.5 614.8,452.6 608.8,427.6" fill="none" stroke="#484848" stroke-width="5.2" stroke-linejoin="round" stroke-linecap="round"/>
<polyline points="600.9,464.5 602.7,490.9 621.0,504.7 637.1,494.4 636.0,465.6 614.8,452.6" fill="none" stroke="#484848" stroke-width="5.2" stroke-linejoin="round" stroke-linecap="round"/>
<polyline points="636.0,465.6 656.7,454.2 676.2,466.8 677.3,493.2 657.8,504.7 637.1,494.4" fill="none" stroke="#484848" stroke-width="5.2" stroke-linejoin="round" stroke-linecap="round"/>
<polyline points="621.0,504.7 621.0,531.1" fill="none" stroke="#484848" stroke-width="5.2" stroke-linejoin="round" stroke-linecap="round"/>
<polyline points="657.8,504.7 659.0,533.4" fill="none" stroke="#484848" stroke-width="5.2" stroke-linejoin="round" stroke-linecap="round"/>
<polyline points="645.0,566.0 655.5,575.9 657.8,601.2 647.5,619.5 636.0,611.5 634.8,585.1 645.0,566.0" fill="none" stroke="#484848" stroke-width="5.2" stroke-linejoin="round" stroke-linecap="round"/>
<polyline points="655.5,575.9 664.7,556.4" fill="none" stroke="#484848" stroke-width="5.2" stroke-linejoin="round" stroke-linecap="round"/>
<polyline points="634.8,585.1 623.4,578.2" fill="none" stroke="#484848" stroke-width="5.2" stroke-linejoin="round" stroke-linecap="round"/>
<line x1="623.5" y1="256" x2="623.5" y2="229.7" stroke="#484848" stroke-width="5.2" stroke-linecap="round"/>
<line x1="623.5" y1="256" x2="623.5" y2="242.8" stroke="#c6c7ee" stroke-width="5.2" stroke-linecap="round"/>
<line x1="623.5" y1="256" x2="617.3" y2="267.3" stroke="#484848" stroke-width="5.2" stroke-linecap="round"/>
<line x1="623.5" y1="256" x2="620.4" y2="261.6" stroke="#c6c7ee" stroke-width="5.2" stroke-linecap="round"/>
<line x1="623.5" y1="256" x2="629" y2="262" stroke="#484848" stroke-width="5.2" stroke-linecap="round"/>
<line x1="623.5" y1="256" x2="626.2" y2="259.0" stroke="#c6c7ee" stroke-width="5.2" stroke-linecap="round"/>
<line x1="621" y1="531.1" x2="641.7" y2="541.4" stroke="#484848" stroke-width="5.2" stroke-linecap="round"/>
<line x1="621" y1="531.1" x2="631.4" y2="536.2" stroke="#c6c7ee" stroke-width="5.2" stroke-linecap="round"/>
<line x1="659" y1="533.4" x2="641.7" y2="541.4" stroke="#484848" stroke-width="5.2" stroke-linecap="round"/>
<line x1="659" y1="533.4" x2="650.4" y2="537.4" stroke="#c6c7ee" stroke-width="5.2" stroke-linecap="round"/>
<line x1="641.7" y1="541.4" x2="645" y2="566" stroke="#484848" stroke-width="5.2" stroke-linecap="round"/>
<line x1="641.7" y1="541.4" x2="643.4" y2="553.7" stroke="#c6c7ee" stroke-width="5.2" stroke-linecap="round"/>
<line x1="629" y1="262" x2="630.4" y2="254.2" stroke="#484848" stroke-width="5.2" stroke-linecap="round"/>
<line x1="630.4" y1="254.2" x2="631.7" y2="246.5" stroke="#cc3444" stroke-width="5.2" stroke-linecap="round"/>
<line x1="617.3" y1="267.3" x2="614.4" y2="264.6" stroke="#484848" stroke-width="5.2" stroke-linecap="round"/>
<line x1="614.4" y1="264.6" x2="611.5" y2="262" stroke="#cc3444" stroke-width="5.2" stroke-linecap="round"/>
<line x1="621" y1="531.1" x2="613.5" y2="537.4" stroke="#484848" stroke-width="5.2" stroke-linecap="round"/>
<line x1="613.5" y1="537.4" x2="606.1" y2="543.7" stroke="#cc3444" stroke-width="5.2" stroke-linecap="round"/>
<line x1="659" y1="533.4" x2="668.8" y2="539.1" stroke="#484848" stroke-width="5.2" stroke-linecap="round"/>
<line x1="668.8" y1="539.1" x2="678.5" y2="544.9" stroke="#cc3444" stroke-width="5.2" stroke-linecap="round"/>
<polyline points="676.5,34.3 688.7,42.9 690.0,67.4 680.0,84.6 669.0,76.0 666.7,50.2 676.5,34.3" fill="none" stroke="#5aad55" stroke-width="5.2" stroke-linejoin="round" stroke-linecap="round"/>
<polyline points="690.0,67.4 701.0,76.0" fill="none" stroke="#5aad55" stroke-width="5.2" stroke-linejoin="round" stroke-linecap="round"/>
<polyline points="669.0,76.0 656.9,96.8" fill="none" stroke="#5aad55" stroke-width="5.2" stroke-linejoin="round" stroke-linecap="round"/>
<polyline points="663.5,122.0 664.8,148.9 646.4,159.9 646.9,186.7 667.3,199.7 686.7,188.7 685.7,160.9 664.8,148.9" fill="none" stroke="#5aad55" stroke-width="5.2" stroke-linejoin="round" stroke-linecap="round"/>
<polyline points="685.7,160.9 703.7,149.4 720.6,161.9 722.1,188.7 708.6,198.7 686.7,188.7" fill="none" stroke="#5aad55" stroke-width="5.2" stroke-linejoin="round" stroke-linecap="round"/>
<polyline points="702.7,122.0 703.7,149.4" fill="none" stroke="#5aad55" stroke-width="5.2" stroke-linejoin="round" stroke-linecap="round"/>
<polyline points="722.1,188.7 739.5,201.7 741.5,226.6 730.5,237.5 713.6,227.6 708.6,198.7" fill="none" stroke="#5aad55" stroke-width="5.2" stroke-linejoin="round" stroke-linecap="round"/>
<polyline points="730.5,237.5 736.8,263.8 726.0,277.7 712.0,264.5 710.0,240.0 713.6,227.6" fill="none" stroke="#5aad55" stroke-width="5.2" stroke-linejoin="round" stroke-linecap="round"/>
<polyline points="701.5,224.0 695.5,235.0 693.0,272.0 697.0,300.0 700.6,311.6" fill="none" stroke="#5aad55" stroke-width="5.2" stroke-linejoin="round" stroke-linecap="round"/>
<polyline points="701.5,224.0 706.6,229.5 707.5,266.0 703.3,279.0 700.6,311.6" fill="none" stroke="#5aad55" stroke-width="5.2" stroke-linejoin="round" stroke-linecap="round"/>
<polyline points="699.3,313.0 688.9,314.2 685.0,331.1 687.6,354.6 694.1,361.7 698.0,354.6 699.3,313.0" fill="none" stroke="#5aad55" stroke-width="5.2" stroke-linejoin="round" stroke-linecap="round"/>
<polyline points="700.6,318.0 704.6,370.0 707.2,383.2" fill="none" stroke="#5aad55" stroke-width="5.2" stroke-linejoin="round" stroke-linecap="round"/>
<polyline points="694.1,361.7 692.8,372.0 693.0,393.0" fill="none" stroke="#5aad55" stroke-width="5.2" stroke-linejoin="round" stroke-linecap="round"/>
<polyline points="699.1,424.3 719.8,438.1 718.7,463.4 698.0,473.7 678.5,458.8 679.6,433.5 699.1,424.3" fill="none" stroke="#5aad55" stroke-width="5.2" stroke-linejoin="round" stroke-linecap="round"/>
<polyline points="679.6,433.5 657.8,415.1" fill="none" stroke="#5aad55" stroke-width="5.2" stroke-linejoin="round" stroke-linecap="round"/>
<polyline points="719.8,438.1 742.8,427.8" fill="none" stroke="#5aad55" stroke-width="5.2" stroke-linejoin="round" stroke-linecap="round"/>
<line x1="681.4" y1="111.5" x2="680" y2="84.6" stroke="#5aad55" stroke-width="5.2" stroke-linecap="round"/>
<line x1="681.4" y1="111.5" x2="680.7" y2="98.0" stroke="#c6c7ee" stroke-width="5.2" stroke-linecap="round"/>
<line x1="681.4" y1="111.5" x2="663.5" y2="122" stroke="#5aad55" stroke-width="5.2" stroke-linecap="round"/>
<line x1="681.4" y1="111.5" x2="672.5" y2="116.8" stroke="#c6c7ee" stroke-width="5.2" stroke-linecap="round"/>
<line x1="681.4" y1="111.5" x2="702.7" y2="122" stroke="#5aad55" stroke-width="5.2" stroke-linecap="round"/>
<line x1="681.4" y1="111.5" x2="692.0" y2="116.8" stroke="#c6c7ee" stroke-width="5.2" stroke-linecap="round"/>
<line x1="700.6" y1="397" x2="693" y2="393" stroke="#5aad55" stroke-width="5.2" stroke-linecap="round"/>
<line x1="700.6" y1="397" x2="696.8" y2="395.0" stroke="#c6c7ee" stroke-width="5.2" stroke-linecap="round"/>
<line x1="700.6" y1="397" x2="707.2" y2="383.2" stroke="#5aad55" stroke-width="5.2" stroke-linecap="round"/>
<line x1="700.6" y1="397" x2="703.9" y2="390.1" stroke="#c6c7ee" stroke-width="5.2" stroke-linecap="round"/>
<line x1="700.6" y1="397" x2="699.1" y2="424.3" stroke="#5aad55" stroke-width="5.2" stroke-linecap="round"/>
<line x1="700.6" y1="397" x2="699.9" y2="410.6" stroke="#c6c7ee" stroke-width="5.2" stroke-linecap="round"/>
<line x1="663.5" y1="122" x2="654.6" y2="114.9" stroke="#5aad55" stroke-width="5.2" stroke-linecap="round"/>
<line x1="654.6" y1="114.9" x2="645.8" y2="107.8" stroke="#cc3444" stroke-width="5.2" stroke-linecap="round"/>
<line x1="702.7" y1="122" x2="709.2" y2="116.8" stroke="#5aad55" stroke-width="5.2" stroke-linecap="round"/>
<line x1="709.2" y1="116.8" x2="715.7" y2="111.5" stroke="#cc3444" stroke-width="5.2" stroke-linecap="round"/>
<line x1="707.2" y1="383.2" x2="709.6" y2="387.1" stroke="#5aad55" stroke-width="5.2" stroke-linecap="round"/>
<line x1="709.6" y1="387.1" x2="712" y2="391" stroke="#cc3444" stroke-width="5.2" stroke-linecap="round"/>
<line x1="693" y1="393" x2="692.2" y2="399.0" stroke="#5aad55" stroke-width="5.2" stroke-linecap="round"/>
<line x1="692.2" y1="399.0" x2="691.5" y2="405" stroke="#cc3444" stroke-width="5.2" stroke-linecap="round"/>
<rect x="641" y="335.5" width="48" height="9" fill="#e3ecf6" opacity="0.8"/>
<line x1="641.5" y1="319.0" x2="689" y2="319.0" stroke="#e09a55" stroke-width="3.6" stroke-dasharray="3.6 3.6"/>
<line x1="641.5" y1="334.6" x2="689" y2="334.6" stroke="#e09a55" stroke-width="3.6" stroke-dasharray="3.6 3.6"/>
<text transform="translate(674.5,308.5) rotate(-90)" font-size="22" font-weight="bold" fill="#111">3.57 Å</text>
<line x1="534" y1="397" x2="546" y2="333" stroke="#3434e8" stroke-width="2.6"/>
<line x1="534" y1="397" x2="563.8" y2="365" stroke="#e05060" stroke-width="2.6"/>
<line x1="534" y1="397" x2="568.8" y2="411.8" stroke="#48e848" stroke-width="2.6"/>
<text x="546" y="329" font-size="13" font-weight="bold" fill="#555" text-anchor="middle">c</text>
<text x="569.5" y="365" font-size="13" font-weight="bold" fill="#555" text-anchor="middle">a</text>
<text x="571.5" y="426.5" font-size="13" font-weight="bold" fill="#555" text-anchor="middle">b</text>
<text x="757" y="164.5" font-size="37.5" font-weight="bold" font-style="italic" fill="#4c9c47">P</text>
<text x="738" y="357.8" font-size="37.5" font-weight="bold" font-style="italic" fill="#4c9c47">P</text>
<text x="549" y="286.3" font-size="37.5" font-weight="bold" font-style="italic" fill="#444">M</text>
<text x="539" y="510.4" font-size="37.5" font-weight="bold" font-style="italic" fill="#444">M</text>
<text x="407.5" y="631.7" font-size="37.8" font-weight="bold" fill="#4c9c47"><tspan font-style="italic">P</tspan>,<tspan font-style="italic">P</tspan>-(S-NMI)</text>
<polyline points="1145.7,251.9 1145.7,279.8 1169.6,290.7 1194.5,276.8 1194.5,248.9" fill="none" stroke="#484848" stroke-width="5.2" stroke-linejoin="round" stroke-linecap="round"/>
<polyline points="1194.5,276.8 1216.4,286.7 1217.4,313.6 1194.5,328.5 1169.6,317.6 1169.6,290.7" fill="none" stroke="#484848" stroke-width="5.2" stroke-linejoin="round" stroke-linecap="round"/>
<polyline points="1145.7,279.8 1124.8,295.7 1125.8,323.6 1143.7,333.5 1169.6,317.6" fill="none" stroke="#484848" stroke-width="5.2" stroke-linejoin="round" stroke-linecap="round"/>
<polyline points="1125.8,323.6 1102.9,339.5 1101.9,366.4 1118.8,375.3 1139.7,359.4 1143.7,333.5" fill="none" stroke="#484848" stroke-width="5.2" stroke-linejoin="round" stroke-linecap="round"/>
<polyline points="1118.8,375.3 1113.8,401.2 1127.8,411.2 1145.7,397.2 1150.7,367.4 1139.7,359.4" fill="none" stroke="#484848" stroke-width="5.2" stroke-linejoin="round" stroke-linecap="round"/>
<polyline points="1150.7,367.4 1161.6,348.5 1171.6,357.4 1173.6,387.3 1159.6,405.2 1145.7,397.2" fill="none" stroke="#484848" stroke-width="5.2" stroke-linejoin="round" stroke-linecap="round"/>
<polyline points="1173.6,387.3 1178.5,391.3 1176.5,419.1 1166.6,435.1 1159.6,405.2" fill="none" stroke="#484848" stroke-width="5.2" stroke-linejoin="round" stroke-linecap="round"/>
<polyline points="1166.6,435.1 1163.5,470.0 1160.8,499.5 1159.0,512.0" fill="none" stroke="#484848" stroke-width="5.2" stroke-linejoin="round" stroke-linecap="round"/>
<polyline points="1167.7,437.0 1166.0,470.0 1162.0,505.0" fill="none" stroke="#484848" stroke-width="5.2" stroke-linejoin="round" stroke-linecap="round"/>
<polyline points="1158.5,561.5 1133.2,575.3 1133.2,600.5 1157.4,613.2 1182.6,600.5 1182.6,573.0 1158.5,561.5" fill="none" stroke="#484848" stroke-width="5.2" stroke-linejoin="round" stroke-linecap="round"/>
<polyline points="1133.2,575.3 1105.7,560.3" fill="none" stroke="#484848" stroke-width="5.2" stroke-linejoin="round" stroke-linecap="round"/>
<polyline points="1182.6,573.0 1209.0,558.0" fill="none" stroke="#484848" stroke-width="5.2" stroke-linejoin="round" stroke-linecap="round"/>
<polygon points="1169.0,166.0 1177.0,164.0 1179.0,200.0 1179.5,238.0 1173.0,240.0 1170.0,228.0 1169.5,200.0 1166.0,192.0 1168.0,186.0" fill="#484848"/>
<line x1="1172.6" y1="238" x2="1145.7" y2="251.9" stroke="#484848" stroke-width="5.2" stroke-linecap="round"/>
<line x1="1172.6" y1="238" x2="1159.2" y2="244.9" stroke="#c6c7ee" stroke-width="5.2" stroke-linecap="round"/>
<line x1="1172.6" y1="238" x2="1194.5" y2="248.9" stroke="#484848" stroke-width="5.2" stroke-linecap="round"/>
<line x1="1172.6" y1="238" x2="1183.5" y2="243.4" stroke="#c6c7ee" stroke-width="5.2" stroke-linecap="round"/>
<line x1="1158.5" y1="536" x2="1159" y2="518" stroke="#484848" stroke-width="5.2" stroke-linecap="round"/>
<line x1="1158.5" y1="536" x2="1158.8" y2="527.0" stroke="#c6c7ee" stroke-width="5.2" stroke-linecap="round"/>
<line x1="1158.5" y1="536" x2="1158.5" y2="561.5" stroke="#484848" stroke-width="5.2" stroke-linecap="round"/>
<line x1="1158.5" y1="536" x2="1158.5" y2="548.8" stroke="#c6c7ee" stroke-width="5.2" stroke-linecap="round"/>
<line x1="1145.7" y1="251.9" x2="1136.2" y2="247.4" stroke="#484848" stroke-width="5.2" stroke-linecap="round"/>
<line x1="1136.2" y1="247.4" x2="1126.8" y2="243" stroke="#cc3444" stroke-width="5.2" stroke-linecap="round"/>
<line x1="1194.5" y1="248.9" x2="1205.0" y2="241.9" stroke="#484848" stroke-width="5.2" stroke-linecap="round"/>
<line x1="1205.0" y1="241.9" x2="1215.4" y2="235" stroke="#cc3444" stroke-width="5.2" stroke-linecap="round"/>
<line x1="1159" y1="505" x2="1159.0" y2="513.5" stroke="#484848" stroke-width="5.2" stroke-linecap="round"/>
<line x1="1159.0" y1="513.5" x2="1159" y2="522" stroke="#cc3444" stroke-width="5.2" stroke-linecap="round"/>
<polyline points="1248.3,42.9 1271.6,56.4 1271.6,80.9 1248.3,94.4 1223.8,80.9 1223.8,56.4 1248.3,42.9" fill="none" stroke="#5aad55" stroke-width="5.2" stroke-linejoin="round" stroke-linecap="round"/>
<polyline points="1223.8,80.9 1195.6,98.0" fill="none" stroke="#5aad55" stroke-width="5.2" stroke-linejoin="round" stroke-linecap="round"/>
<polyline points="1271.6,80.9 1297.3,96.8" fill="none" stroke="#5aad55" stroke-width="5.2" stroke-linejoin="round" stroke-linecap="round"/>
<polyline points="1248.0,116.0 1246.8,130.0 1245.6,152.0 1240.7,185.0 1235.8,218.0 1227.2,238.6 1225.0,263.2 1234.7,270.7 1243.2,253.6" fill="none" stroke="#5aad55" stroke-width="5.2" stroke-linejoin="round" stroke-linecap="round"/>
<polyline points="1248.0,116.0 1244.3,181.5 1243.1,223.1 1244.3,252.5" fill="none" stroke="#5aad55" stroke-width="5.2" stroke-linejoin="round" stroke-linecap="round"/>
<polyline points="1234.7,270.7 1234.7,298.6 1244.3,308.3 1255.0,290.0 1257.2,261.1 1244.3,252.5" fill="none" stroke="#5aad55" stroke-width="5.2" stroke-linejoin="round" stroke-linecap="round"/>
<polyline points="1257.2,261.1 1278.6,245.0 1292.6,253.6 1287.2,279.3 1265.8,294.3 1255.0,290.0" fill="none" stroke="#5aad55" stroke-width="5.2" stroke-linejoin="round" stroke-linecap="round"/>
<polyline points="1287.2,279.3 1303.3,290.0 1302.2,314.7 1280.8,330.8 1262.5,323.3 1265.8,294.3" fill="none" stroke="#5aad55" stroke-width="5.2" stroke-linejoin="round" stroke-linecap="round"/>
<polyline points="1262.5,323.3 1237.3,338.5 1211.1,327.5 1190.5,341.5 1189.5,369.4 1211.4,380.3 1237.3,365.4 1237.3,338.5" fill="none" stroke="#5aad55" stroke-width="5.2" stroke-linejoin="round" stroke-linecap="round"/>
<polyline points="1280.8,330.8 1280.5,358.4 1259.2,375.3 1237.3,365.4" fill="none" stroke="#5aad55" stroke-width="5.2" stroke-linejoin="round" stroke-linecap="round"/>
<polyline points="1211.4,380.3 1210.4,409.2" fill="none" stroke="#5aad55" stroke-width="5.2" stroke-linejoin="round" stroke-linecap="round"/>
<polyline points="1259.2,375.3 1257.2,405.2" fill="none" stroke="#5aad55" stroke-width="5.2" stroke-linejoin="round" stroke-linecap="round"/>
<polygon points="1226.3,416.0 1236.0,416.0 1236.4,462.0 1239.2,464.5 1239.0,470.0 1236.0,473.0 1235.8,493.5 1228.3,493.5 1226.8,450.0" fill="#5aad55"/>
<polygon points="1226.3,415 1236,415 1236,428 1226.5,428" fill="#c6c7ee"/>
<line x1="1233.3" y1="415.1" x2="1210.4" y2="409.2" stroke="#5aad55" stroke-width="5.2" stroke-linecap="round"/>
<line x1="1233.3" y1="415.1" x2="1221.8" y2="412.1" stroke="#c6c7ee" stroke-width="5.2" stroke-linecap="round"/>
<line x1="1233.3" y1="415.1" x2="1257.2" y2="405.2" stroke="#5aad55" stroke-width="5.2" stroke-linecap="round"/>
<line x1="1233.3" y1="415.1" x2="1245.2" y2="410.1" stroke="#c6c7ee" stroke-width="5.2" stroke-linecap="round"/>
<line x1="1210.4" y1="409.2" x2="1200.5" y2="415.6" stroke="#5aad55" stroke-width="5.2" stroke-linecap="round"/>
<line x1="1200.5" y1="415.6" x2="1190.5" y2="422.1" stroke="#cc3444" stroke-width="5.2" stroke-linecap="round"/>
<line x1="1257.2" y1="405.2" x2="1267.7" y2="409.7" stroke="#5aad55" stroke-width="5.2" stroke-linecap="round"/>
<line x1="1267.7" y1="409.7" x2="1278.1" y2="414.2" stroke="#cc3444" stroke-width="5.2" stroke-linecap="round"/>
<line x1="1248.3" y1="94" x2="1248.3" y2="103" stroke="#5aad55" stroke-width="5.2" stroke-linecap="round"/>
<line x1="1248.3" y1="103" x2="1248.2" y2="115" stroke="#c0303a" stroke-width="5.2"/>
<line x1="1196.0" y1="299.5" x2="1196.0" y2="350" stroke="#e09a55" stroke-width="3.4" stroke-dasharray="3.4 5.6"/>
<line x1="1208.4" y1="299.5" x2="1208.4" y2="350" stroke="#e09a55" stroke-width="3.4" stroke-dasharray="3.4 5.6"/>
<text x="1181.5" y="304" font-size="20.5" font-weight="bold" fill="#5e3596">R1</text>
<text x="1196" y="367.2" font-size="21.5" font-weight="bold" fill="#5e3596">R1'</text>
<line x1="1068.9" y1="488" x2="1036.8" y2="426" stroke="#3434e8" stroke-width="2.6"/>
<line x1="1068.9" y1="488" x2="1117.2" y2="465" stroke="#e05060" stroke-width="2.6"/>
<line x1="1068.9" y1="488" x2="1044.8" y2="558" stroke="#48e848" stroke-width="2.6"/>
<text x="1034.5" y="419" font-size="13" font-weight="bold" fill="#555" text-anchor="middle">c</text>
<text x="1129" y="464.5" font-size="13" font-weight="bold" fill="#555" text-anchor="middle">a</text>
<text x="1037" y="573" font-size="13" font-weight="bold" fill="#555" text-anchor="middle">b</text>
<text x="1283.5" y="218.4" font-size="35" font-weight="bold" font-style="italic" fill="#4c9c47">P</text>
<text x="1330.5" y="336.8" font-size="34" font-weight="bold" font-style="italic" fill="#4c9c47">P</text>
<text x="1039" y="358.7" font-size="36" font-weight="bold" font-style="italic" fill="#444">M</text>
<text x="1112" y="529.3" font-size="37.5" font-weight="bold" font-style="italic" fill="#444">M</text>
<text x="901.7" y="634.7" font-size="38.5" font-weight="bold" fill="#404040"><tspan font-style="italic">M</tspan>,<tspan font-style="italic">M</tspan>-(S-NMI)</text>
<polyline points="88.3,828.2 90.1,833.7 91.9,817.1 93.2,801.5 94.7,808.0 96.5,815.3 98.4,811.6 100.2,811.6 102.0,822.7 103.9,828.2 105.7,826.3 107.6,831.8 109.4,853.9 113.1,868.6 115.8,887.0 118.6,905.3 121.3,923.7 124.1,942.0 125.9,960.4 126.8,974.7 129.6,989.4 134.2,1002.2 138.8,1008.7 144.3,1008.7 147.0,1008.1 150.7,1009.6 154.4,1003.2 158.1,1002.2 161.7,997.7 165.4,997.7 168.2,998.6 170.9,996.7 173.7,1008.7 177.4,1005.0 180.1,1011.4 184.7,1028.0 190.2,1048.2 195.7,1068.4 200.3,1088.6 203.1,1111.5 205.8,1116.1 209.5,1125.3 213.2,1119.8 216.8,1121.6 219.6,1127.2 223.3,1121.6 227.9,1122.6 231.5,1118.9 235.5,1130.0 240.1,1125.4 244.7,1133.7 250.2,1130.9 255.7,1125.4 261.2,1131.8 264.0,1119.9 267.7,1113.5 271.4,1114.4 274.1,1111.6 277.8,1121.7 283.3,1130.9 287.0,1145.6 292.5,1167.7 296.2,1175.0 299.8,1183.3 303.5,1167.7 307.2,1153.0 312.7,1134.6 316.4,1110.7 320.1,1096.0 324.7,1077.6 331.1,1064.8 334.8,1051.9 340.3,1040.9 345.8,1031.7 351.3,1016.1 355.9,1012.4 359.6,1007.8 365.1,1005.0 367.8,1001.4 372.4,1004.1 377.0,1008.7 380.7,1004.1 385.3,1001.4 390.8,997.7 395.5,990.7 400.1,983.4 404.7,970.5 408.4,968.7 411.1,959.5 413.0,954.9 416.6,954.9 419.4,941.1 422.2,932.8 425.8,930.1 429.5,920.9 434.1,912.6 438.7,914.4 442.4,902.5 445.1,891.5 448.8,887.8 450.6,891.5 454.3,877.7 457.1,874.0 460.8,876.8 464.4,872.2 467.2,874.0 470.9,868.5 474.5,870.3 480.1,873.1 483.7,875.8 487.4,882.3 491.1,883.2 494.8,893.3 499.4,906.2 504.0,913.5 507.6,920.0 512.2,919.0 516.8,923.6 522.3,930.1 526.9,941.1 530.6,944.8 535.2,942.9 540.7,939.2 544.4,936.8 547.7,930.8 551.0,932.4 555.4,927.4 561.0,917.5 563.7,933.0 566.5,938.5 569.8,940.1 573.1,950.6 576.4,946.2 583.0,955.0 586.9,949.0 596.3,958.3 602.9,949.0 606.2,958.3 612.8,955.0 616.1,951.7 619.4,952.3 622.8,943.4 628.3,946.2 631.6,941.2 636.0,947.3 643.7,944.6 648.1,949.0 654.8,944.0 659.2,948.4 664.7,953.4 667.4,950.6 670.2,958.9 673.5,955.0 676.8,961.7 682.3,962.8" fill="none" stroke="#3b3b3b" stroke-width="3.2" stroke-linejoin="round"/>
<polyline points="88.3,1108.8 91.0,1108.8 96.5,1115.2 100.2,1110.6 104.8,1099.6 109.4,1083.1 113.1,1062.9 115.8,1042.7 118.6,1020.6 121.3,996.7 124.1,972.9 125.9,956.8 128.7,936.5 132.4,927.4 135.1,912.7 137.9,905.3 142.5,909.0 148.0,916.3 153.5,921.9 159.0,927.4 161.7,926.4 164.5,932.0 170.0,929.2 173.7,930.1 177.4,923.7 181.0,916.3 182.9,903.5 185.6,892.5 188.4,883.3 190.2,870.4 193.0,855.7 195.7,842.9 199.4,830.0 203.0,828.2 206.7,821.7 210.4,818.1 213.2,812.6 215.9,813.5 219.6,817.1 222.4,818.1 226.0,813.5 228.8,816.2 232.5,815.3 237.4,812.6 242.9,808.9 247.5,809.8 252.1,803.4 256.6,804.3 264.0,800.6 269.5,795.1 274.1,789.6 277.8,790.5 279.6,785.0 284.2,776.8 288.8,767.6 292.5,765.7 296.2,763.0 299.8,765.7 303.5,766.6 307.2,776.8 310.9,789.6 314.5,804.3 318.2,819.0 321.9,835.6 325.6,850.3 329.2,859.5 332.9,872.3 336.6,883.4 342.1,892.5 345.8,903.6 351.3,916.4 356.8,927.5 362.3,934.8 367.8,941.2 375.2,939.4 380.7,941.2 388.1,947.7 393.6,955.0 395.5,957.6 401.0,968.7 406.5,981.5 410.2,992.5 415.7,1003.6 421.2,1010.9 425.8,1022.0 430.4,1028.4 435.9,1036.7 439.6,1040.3 445.1,1042.2 450.6,1046.8 455.2,1046.8 459.8,1053.2 464.4,1057.8 469.0,1056.0 474.5,1056.0 478.2,1057.8 481.9,1051.4 487.4,1044.9 492.9,1039.4 497.5,1033.0 500.3,1023.8 503.0,1018.3 505.8,1016.4 509.5,1003.6 515.0,998.1 520.5,992.5 526.0,987.0 531.5,981.5 535.2,976.0 540.7,977.8 545.5,978.2 551.0,977.1 555.4,978.8 561.0,976.6 564.3,980.4 568.7,979.3 575.3,980.4 580.8,977.1 584.1,979.9 589.7,974.3 593.5,977.1 599.6,974.3 606.2,973.2 610.6,976.0 615.6,971.0 619.4,976.0 625.0,977.7 631.6,981.5 638.2,986.5 644.8,985.9 650.3,988.7 654.8,981.5 661.4,977.1 668.0,971.6 672.4,967.2 675.7,963.9 682.3,962.2" fill="none" stroke="#2f921f" stroke-width="3.2" stroke-linejoin="round"/>
<rect x="87.5" y="741.3" width="595.9" height="480.9000000000001" fill="none" stroke="#000" stroke-width="2.4"/>
<line x1="78.0" y1="808.0" x2="87.5" y2="808.0" stroke="#000" stroke-width="2.2"/>
<text x="71.6" y="814.0" text-anchor="end" font-size="20.5" font-weight="bold">20</text>
<line x1="82.0" y1="885.3" x2="87.5" y2="885.3" stroke="#000" stroke-width="2.2"/>
<line x1="78.0" y1="962.5" x2="87.5" y2="962.5" stroke="#000" stroke-width="2.2"/>
<text x="71.6" y="968.5" text-anchor="end" font-size="20.5" font-weight="bold">0</text>
<line x1="82.0" y1="1039.8" x2="87.5" y2="1039.8" stroke="#000" stroke-width="2.2"/>
<line x1="78.0" y1="1117.0" x2="87.5" y2="1117.0" stroke="#000" stroke-width="2.2"/>
<text x="71.6" y="1123.0" text-anchor="end" font-size="20.5" font-weight="bold">−20</text>
<line x1="82.0" y1="1194.3" x2="87.5" y2="1194.3" stroke="#000" stroke-width="2.2"/>
<line x1="87.6" y1="1222.2" x2="87.6" y2="1231.7" stroke="#000" stroke-width="2.2"/>
<text x="87.6" y="1253.3" text-anchor="middle" font-size="20.5" font-weight="bold">245</text>
<line x1="183.9" y1="1222.2" x2="183.9" y2="1227.7" stroke="#000" stroke-width="2.2"/>
<line x1="264.8" y1="1222.2" x2="264.8" y2="1231.7" stroke="#000" stroke-width="2.2"/>
<text x="264.8" y="1253.3" text-anchor="middle" font-size="20.5" font-weight="bold">300</text>
<line x1="345.8" y1="1222.2" x2="345.8" y2="1227.7" stroke="#000" stroke-width="2.2"/>
<line x1="426.3" y1="1222.2" x2="426.3" y2="1231.7" stroke="#000" stroke-width="2.2"/>
<text x="426.3" y="1253.3" text-anchor="middle" font-size="20.5" font-weight="bold">350</text>
<line x1="507.4" y1="1222.2" x2="507.4" y2="1227.7" stroke="#000" stroke-width="2.2"/>
<line x1="588.0" y1="1222.2" x2="588.0" y2="1231.7" stroke="#000" stroke-width="2.2"/>
<text x="588.0" y="1253.3" text-anchor="middle" font-size="20.5" font-weight="bold">400</text>
<line x1="669.0" y1="1222.2" x2="669.0" y2="1227.7" stroke="#000" stroke-width="2.2"/>
<line x1="683.4" y1="1222.2" x2="683.4" y2="1231.7" stroke="#000" stroke-width="2.2"/>
<text x="683.4" y="1253.3" text-anchor="middle" font-size="20.5" font-weight="bold">430</text>
<text x="385.5" y="1294" text-anchor="middle" font-size="25" font-weight="bold">Wavelength (nm)</text>
<text transform="translate(29.2,982.6) rotate(-90)" text-anchor="middle" font-size="25" font-weight="bold"><tspan font-weight="normal">Δ</tspan>ε (lmol<tspan font-size="16" dy="-11">-1</tspan><tspan dy="11">cm</tspan><tspan font-size="16" dy="-11">-1</tspan><tspan dy="11">)</tspan></text>
<line x1="455" y1="769.2" x2="512.5" y2="769.2" stroke="#2f921f" stroke-width="3.2"/>
<line x1="455" y1="800.9" x2="512.5" y2="800.9" stroke="#3b3b3b" stroke-width="3.2"/>
<text x="519.5" y="777.4" font-size="24.5" font-weight="bold" fill="#2f921f"><tspan font-style="italic">P</tspan>,<tspan font-style="italic">P</tspan>-(S-NMI)</text>
<text x="519.5" y="809" font-size="24.5" font-weight="bold" fill="#3b3b3b"><tspan font-style="italic">M</tspan>,<tspan font-style="italic">M</tspan>-(S-NMI)</text>
<text x="34.5" y="720.2" font-size="45" letter-spacing="2.2">d)</text>
<polyline points="829.0,960.0 829.3,880.0 829.6,861.0 830.8,860.0 831.6,880.0 832.3,920.0 833.0,942.0 834.5,945.5 837.2,940.8 839.3,915.0 842.9,908.6 846.7,911.8 849.3,892.5 852.5,895.8 855.8,890.4 859.0,894.7 862.2,887.2 866.5,904.3 869.7,908.6 872.9,925.8 877.2,947.2 879.3,968.7 881.5,990.1 884.6,1008.4 887.7,1019.1 891.5,1025.2 895.3,1027.5 899.9,1023.7 904.5,1024.4 908.3,1018.3 912.1,1015.3 916.0,1010.7 920.6,1011.4 924.4,1009.1 927.5,1018.3 931.3,1014.5 935.1,1023.7 941.2,1046.6 947.4,1069.6 953.5,1092.6 955.8,1106.3 962.7,1121.7 967.3,1122.4 971.9,1128.5 974.9,1125.5 981.0,1128.5 984.1,1125.5 987.2,1137.0 993.3,1132.4 997.1,1142.3 1002.5,1139.3 1007.1,1133.1 1010.1,1130.8 1013.2,1135.4 1016.3,1121.7 1019.3,1118.6 1022.4,1117.8 1025.4,1114.8 1027.7,1120.9 1031.6,1124.0 1035.4,1128.5 1040.7,1146.2 1045.3,1159.9 1049.9,1175.2 1054.5,1152.3 1057.6,1146.2 1060.6,1141.6 1063.7,1123.2 1068.3,1101.8 1074.4,1080.3 1082.1,1060.4 1092.8,1040.5 1096.7,1028.8 1102.3,1019.6 1109.6,1012.3 1117.0,1007.7 1120.0,1008.9 1125.5,1013.0 1129.0,1008.9 1133.8,1007.5 1139.3,1004.0 1144.8,998.5 1148.9,994.4 1153.1,986.8 1157.2,985.4 1160.0,976.5 1163.4,976.5 1166.2,968.2 1168.9,961.3 1172.4,958.6 1176.5,951.7 1182.0,946.2 1186.2,947.5 1188.9,940.6 1191.7,933.7 1195.1,928.9 1197.9,931.7 1200.6,924.8 1204.1,921.3 1207.5,924.8 1210.3,921.3 1213.7,922.0 1216.5,918.6 1222.0,920.7 1228.9,920.7 1233.0,924.8 1236.5,923.4 1241.3,932.4 1245.4,937.9 1248.9,940.6 1252.3,945.5 1257.8,941.3 1264.7,947.5 1268.8,954.4 1273.5,963.9 1277.0,963.9 1282.9,959.8 1287.6,957.5 1291.7,951.6 1295.2,953.4 1299.3,947.5 1304.6,938.1 1308.1,954.6 1313.4,960.4 1316.9,971.0 1319.8,965.1 1326.3,973.9 1329.8,968.6 1338.6,976.8 1345.6,967.5 1348.6,977.4 1355.6,972.1 1361.5,969.8 1363.8,960.4 1369.7,961.0 1373.8,955.7 1377.9,962.2 1386.1,954.0 1389.6,959.2 1395.5,951.0 1400.1,955.7 1404.8,959.2 1408.3,952.2 1411.3,973.3 1414.8,959.2 1417.7,980.3 1423.6,982.7" fill="none" stroke="#3b3b3b" stroke-width="3.2" stroke-linejoin="round"/>
<polygon points="828.4,859 832.6,859 834.5,944 831.5,946 829.5,960 828.4,960" fill="#3b3b3b"/>
<polyline points="828.5,1100.4 829.8,1050.0 832.5,1048.7 836.4,1042.7 839.3,1041.8 843.0,1056.7 848.3,1062.0 853.6,1065.2 859.0,1069.5 864.3,1065.2 868.6,1054.5 872.9,1033.0 877.2,1007.3 879.3,990.1 882.6,968.7 885.8,955.8 889.0,947.2 891.0,934.1 893.5,928.6 897.1,934.1 901.7,941.4 906.3,947.0 910.9,952.5 914.6,953.4 918.3,958.0 922.9,958.0 927.5,958.0 931.1,952.5 934.8,947.0 937.6,932.3 940.3,926.7 943.1,915.7 946.7,899.2 950.4,884.5 953.2,876.2 956.8,872.6 959.6,866.1 965.1,856.9 967.9,854.2 971.5,856.0 974.6,855.2 978.3,848.8 981.9,850.6 988.4,844.2 993.9,837.8 998.5,835.9 1003.1,831.3 1006.7,833.7 1011.3,833.2 1015.9,833.7 1019.6,829.5 1025.1,826.7 1028.8,827.7 1033.4,819.4 1038.9,811.1 1042.6,809.3 1047.1,807.5 1050.8,809.3 1054.5,811.1 1058.2,823.1 1061.8,835.9 1065.5,846.9 1069.2,863.5 1072.9,874.5 1076.5,887.4 1080.2,898.4 1084.8,911.2 1090.3,922.3 1096.7,937.0 1102.3,948.0 1107.8,955.3 1113.3,962.7 1117.0,966.3 1120.0,966.8 1125.5,966.1 1131.0,968.2 1137.9,973.0 1144.1,980.6 1150.3,990.3 1155.8,999.9 1161.3,1009.5 1168.2,1016.4 1173.1,1024.7 1177.9,1028.2 1183.4,1034.4 1188.9,1036.4 1195.8,1039.2 1200.6,1039.2 1204.1,1041.9 1210.3,1045.4 1216.5,1044.0 1223.4,1045.4 1228.9,1041.9 1234.4,1039.9 1238.5,1037.1 1242.7,1036.4 1246.8,1031.6 1249.5,1027.5 1252.3,1027.5 1254.4,1017.8 1260.6,1013.7 1266.1,1008.2 1270.0,1005.6 1274.7,1000.9 1279.4,995.0 1284.1,995.6 1288.8,997.3 1293.4,995.0 1299.3,996.2 1304.0,994.4 1308.7,997.9 1316.9,999.1 1322.8,995.6 1326.3,998.5 1333.3,993.2 1336.8,995.6 1342.7,992.7 1348.6,992.1 1353.2,994.4 1357.9,990.9 1361.5,995.6 1367.3,999.1 1373.2,1005.0 1379.0,1012.0 1386.1,1014.3 1390.2,1020.2 1393.1,1019.0 1396.0,1010.8 1399.6,1013.2 1403.7,1007.9 1408.9,1000.3 1412.5,999.1 1415.4,986.2 1418.9,983.9 1423.6,978.0" fill="none" stroke="#2f921f" stroke-width="3.2" stroke-linejoin="round"/>
<rect x="828.0" y="741.3" width="596.0" height="480.9000000000001" fill="none" stroke="#000" stroke-width="2.4"/>
<line x1="818.5" y1="741.3" x2="828.0" y2="741.3" stroke="#000" stroke-width="2.2"/>
<text x="811.3" y="747.1999999999999" text-anchor="end" font-size="20.5" font-weight="bold">0.002</text>
<line x1="822.5" y1="801.5" x2="828.0" y2="801.5" stroke="#000" stroke-width="2.2"/>
<line x1="818.5" y1="861.6" x2="828.0" y2="861.6" stroke="#000" stroke-width="2.2"/>
<text x="811.3" y="867.5" text-anchor="end" font-size="20.5" font-weight="bold">0.001</text>
<line x1="822.5" y1="921.7" x2="828.0" y2="921.7" stroke="#000" stroke-width="2.2"/>
<line x1="818.5" y1="981.8" x2="828.0" y2="981.8" stroke="#000" stroke-width="2.2"/>
<text x="811.3" y="987.6999999999999" text-anchor="end" font-size="20.5" font-weight="bold">0.000</text>
<line x1="822.5" y1="1042.0" x2="828.0" y2="1042.0" stroke="#000" stroke-width="2.2"/>
<line x1="818.5" y1="1102.2" x2="828.0" y2="1102.2" stroke="#000" stroke-width="2.2"/>
<text x="811.3" y="1108.1000000000001" text-anchor="end" font-size="20.5" font-weight="bold">−0.001</text>
<line x1="822.5" y1="1162.3" x2="828.0" y2="1162.3" stroke="#000" stroke-width="2.2"/>
<line x1="818.5" y1="1221.8" x2="828.0" y2="1221.8" stroke="#000" stroke-width="2.2"/>
<text x="811.3" y="1227.7" text-anchor="end" font-size="20.5" font-weight="bold">−0.002</text>
<line x1="828.0" y1="1222.2" x2="828.0" y2="1231.7" stroke="#000" stroke-width="2.2"/>
<text x="828.0" y="1253.5" text-anchor="middle" font-size="20.5" font-weight="bold">240</text>
<line x1="937.4" y1="1222.2" x2="937.4" y2="1231.7" stroke="#000" stroke-width="2.2"/>
<text x="937.4" y="1253.5" text-anchor="middle" font-size="20.5" font-weight="bold">275</text>
<line x1="1016.3" y1="1222.2" x2="1016.3" y2="1231.7" stroke="#000" stroke-width="2.2"/>
<text x="1016.3" y="1253.5" text-anchor="middle" font-size="20.5" font-weight="bold">300</text>
<line x1="1094.5" y1="1222.2" x2="1094.5" y2="1227.7" stroke="#000" stroke-width="2.2"/>
<line x1="1173.0" y1="1222.2" x2="1173.0" y2="1231.7" stroke="#000" stroke-width="2.2"/>
<text x="1173.0" y="1253.5" text-anchor="middle" font-size="20.5" font-weight="bold">350</text>
<line x1="1251.4" y1="1222.2" x2="1251.4" y2="1227.7" stroke="#000" stroke-width="2.2"/>
<line x1="1330.0" y1="1222.2" x2="1330.0" y2="1231.7" stroke="#000" stroke-width="2.2"/>
<text x="1330.0" y="1253.5" text-anchor="middle" font-size="20.5" font-weight="bold">400</text>
<line x1="1408.3" y1="1222.2" x2="1408.3" y2="1227.7" stroke="#000" stroke-width="2.2"/>
<line x1="1424.0" y1="1222.2" x2="1424.0" y2="1231.7" stroke="#000" stroke-width="2.2"/>
<text x="1424.0" y="1253.5" text-anchor="middle" font-size="20.5" font-weight="bold">430</text>
<text x="1126" y="1294" text-anchor="middle" font-size="25" font-weight="bold">Wavelength (nm)</text>
<text transform="translate(733,981.6) rotate(-90)" text-anchor="middle" font-size="24" font-weight="bold"><tspan font-style="italic">g</tspan><tspan font-size="16" dy="7">abs</tspan></text>
<line x1="1189.1" y1="768.8" x2="1246.5" y2="768.8" stroke="#2f921f" stroke-width="3.2"/>
<line x1="1189.1" y1="800.4" x2="1246.5" y2="800.4" stroke="#3b3b3b" stroke-width="3.2"/>
<text x="1252.5" y="777" font-size="24.5" font-weight="bold" fill="#2f921f"><tspan font-style="italic">P</tspan>,<tspan font-style="italic">P</tspan>-(S-NMI)</text>
<text x="1252.5" y="808.6" font-size="24.5" font-weight="bold" fill="#3b3b3b"><tspan font-style="italic">M</tspan>,M-(S-NMI)</text>
<text x="707.5" y="720.2" font-size="45" letter-spacing="2.2">e)</text>
</svg>
</body></html>
